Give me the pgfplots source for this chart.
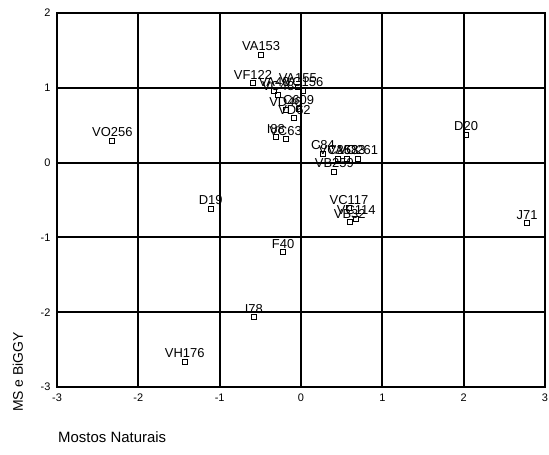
\documentclass[border=0pt]{standalone}
\usepackage{pgfplots}
\pgfplotsset{compat=1.18}
\usepackage{pgfplotstable}
\usepackage{fontspec}
\setmainfont{Liberation Sans}
\pgfplotstableread{
x y label
-0.49 1.44 VA153
-0.59 1.06 VF122
-0.33 0.96 VA40
-0.28 0.91 VC48
-0.04 1.01 VA155
0.03 0.96 VC156
-0.19 0.70 VD46
-0.03 0.72 C609
-0.08 0.59 VD62
-0.31 0.34 I88
-0.19 0.31 VC63
0.27 0.12 C84
0.46 0.05 VC258
0.56 0.05 VA633
0.70 0.05 VO261
0.41 -0.12 VB259
0.59 -0.61 VC117
0.68 -0.75 VC114
0.60 -0.80 VB32
-2.32 0.29 VO256
2.03 0.37 D20
2.78 -0.81 J71
-1.11 -0.62 D19
-0.22 -1.20 F40
-0.58 -2.07 I78
-1.43 -2.66 VH176
}\pts
\begin{document}
\begin{tikzpicture}
\useasboundingbox (-57bp,-68bp) rectangle (492bp,387bp);
\begin{axis}[
  scale only axis, width=488bp, height=374bp,
  at={(0,0)}, anchor=south west,
  xmin=-3, xmax=3, ymin=-3, ymax=2,
  xtick={-3,...,3}, ytick={-3,...,2},
  grid=major, major grid style={black, line width=2bp},
  axis line style={black, line width=2bp},
  tick style={black, line width=2bp}, major tick length=3bp,
  tick align=inside,
  ticklabel style={font=\fontsize{11}{11}\selectfont},
  /pgf/number format/assume math mode=true,
  xticklabel style={yshift=-3bp},
  yticklabel style={xshift=-3bp},
  clip=false,
]
\addplot[only marks, mark=square, mark size=2.5bp, mark options={black, line width=1pt},
  nodes near coords, point meta=explicit symbolic,
  every node near coord/.style={font=\fontsize{13}{13}\selectfont, anchor=south, yshift=2.5bp, inner sep=1bp}]
  table[x=x, y=y, meta=label] {\pts};
\end{axis}
\node[anchor=west, inner sep=0pt, font=\fontsize{15}{15}\selectfont] at (1bp,-50bp) {Mostos Naturais};
\node[rotate=90, anchor=center, font=\fontsize{14}{14}\selectfont] at (-39bp,15bp) {MS e BiGGY};
\end{tikzpicture}
\end{document}
